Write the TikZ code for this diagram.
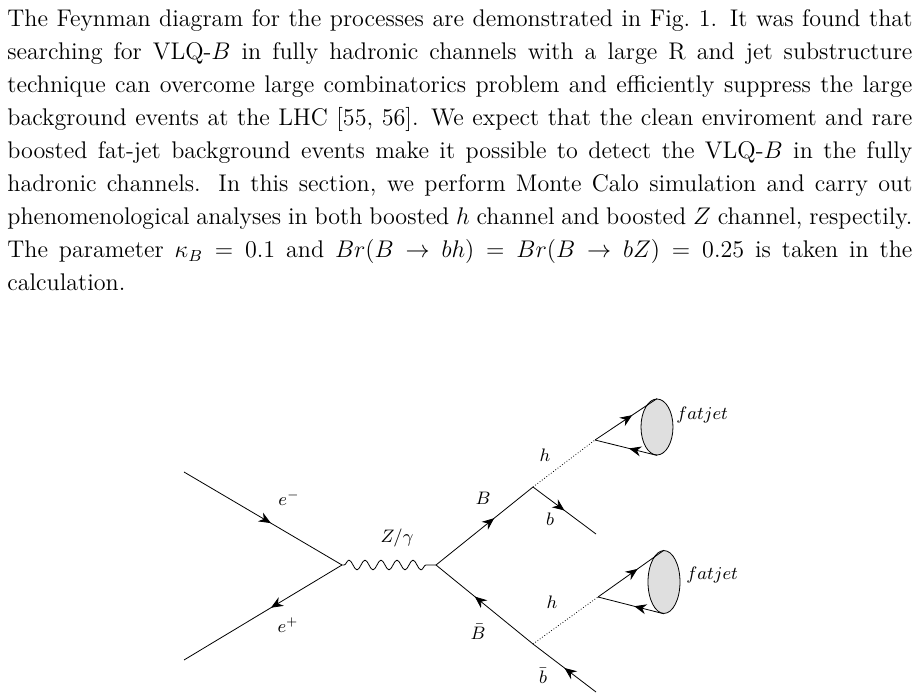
\documentclass[tikz,border=0pt]{standalone}
\usepackage{amsmath}
\usetikzlibrary{calc}
\usetikzlibrary{positioning}
\usetikzlibrary{arrows.meta}
\usetikzlibrary{shapes.geometric}
\usetikzlibrary{decorations.markings,decorations.pathmorphing}

\tikzset{
  fermion/.style={decoration={markings,mark=at position #1 with {\arrow{Stealth[length=6pt,width=5pt]}}},postaction={decorate}},
  fermion/.default=0.55,
  antifermion/.style={decoration={markings,mark=at position #1 with {\arrowreversed{Stealth[length=6pt,width=5pt]}}},postaction={decorate}},
  antifermion/.default=0.55,
  boson/.style={decorate,decoration={snake,segment length=0.28cm,amplitude=0.085cm,pre length=1pt,post length=1pt}},
  scalar/.style={densely dotted},
  fatjet/.style={ellipse,draw,fill=gray!25,minimum width=0.56cm,minimum height=#1,inner sep=0pt},
  lbl/.style={inner sep=0pt,font=\small}
}

\begin{document}
\begin{tikzpicture}[x=0.0175cm,y=-0.0175cm]
        \useasboundingbox (0,0) rectangle (919,699);
        \node[anchor=north west,inner sep=0pt,text width=15.84cm,align=justify] (para) at (7,9) {\fontsize{12}{16.45}\selectfont
        The Feynman diagram for the processes are demonstrated in Fig.~1. It was found that
        searching for VLQ-$B$ in fully hadronic channels with a large R and jet substructure
        technique can overcome large combinatorics problem and efficiently suppress the large
        background events at the LHC [55, 56]. We expect that the clean enviroment and rare
        boosted fat-jet background events make it possible to detect the VLQ-$B$ in the fully
        hadronic channels. In this section, we perform Monte Calo simulation and carry out
        phenomenological analyses in both boosted $h$ channel and boosted $Z$ channel, respectily.
        The parameter $\kappa_B=0.1$ and $Br(B\to bh)=Br(B\to bZ)=0.25$ is taken in the
        calculation.\par};

        % vertices and external points
        \coordinate (em) at (184,472);
        \coordinate (ep) at (184,660);
        \coordinate (v1) at (342,565);
        \coordinate (v2) at (436,565);
        \coordinate (vB) at (533,487);
        \coordinate (vBb) at (533,644);
        \coordinate (bq) at (596,534);
        \coordinate (bqb) at (596,692);
        \coordinate (hA) at (595,440);
        \coordinate (hB) at (598,597);
        \node[fatjet=0.98cm] (jetA) at (657,427) {};
        \node[fatjet=1.1cm] (jetB) at (664,582) {};

        % lines
        \draw[fermion] (em) -- (v1);
        \draw[fermion=0.45] (v1) -- (ep);
        \draw[boson] (v1) -- (v2);
        \draw[fermion=0.6] (v2) -- (vB);
        \draw[antifermion=0.4] (v2) -- (vBb);
        \draw[fermion=0.5] (vB) -- (bq);
        \draw[antifermion=0.5] (vBb) -- (bqb);
        \draw[scalar] (vB) -- (hA);
        \draw[scalar] (vBb) -- (hB);
        \draw[fermion=0.6] (hA) -- (jetA.north);
        \draw[antifermion=0.55] (hA) -- (jetA.south);
        \draw[fermion=0.6] (hB) -- (jetB.north);
        \draw[antifermion=0.55] (hB) -- (jetB.south);

        % labels
        \node[lbl] (lem) at (289,498) {$e^-$};
        \node[lbl] (lep) at (288,625) {$e^+$};
        \node[lbl] (lz) at (397,538) {$Z/\gamma$};
        \node[lbl] (lB) at (483,498) {$B$};
        \node[lbl] (lBb) at (478,632) {$\bar{B}$};
        \node[lbl] (lb) at (550,519) {$b$};
        \node[lbl] (lbb) at (543,676) {$\bar{b}$};
        \node[lbl] (lhA) at (545,455) {$h$};
        \node[lbl] (lhB) at (552,602) {$h$};
        \node[lbl,anchor=west] (ljA) at (676,415) {$fatjet$};
        \node[lbl,anchor=west] (ljB) at (686,575) {$fatjet$};
\end{tikzpicture}
\end{document}
